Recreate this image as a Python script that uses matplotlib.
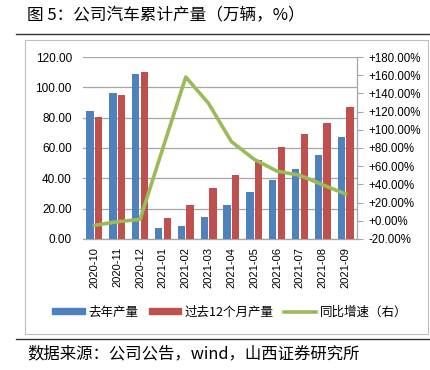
import matplotlib
matplotlib.use("Agg")
import matplotlib.pyplot as plt
import numpy as np
from matplotlib.patches import Rectangle
from matplotlib.lines import Line2D

plt.rcParams['font.family'] = ['Noto Sans CJK SC', 'DejaVu Sans']

categories = ['2020-10', '2020-11', '2020-12', '2021-01', '2021-02', '2021-03',
              '2021-04', '2021-05', '2021-06', '2021-07', '2021-08', '2021-09']
last_year = [84.4, 96.5, 108.6, 7.5, 8.6, 14.5, 22.6, 30.8, 39.1, 46.4, 55.4, 67.1]
past_12m = [80.2, 94.9, 109.9, 13.6, 22.4, 33.4, 42.2, 52.1, 60.6, 69.4, 76.7, 86.8]
yoy_growth = [-5.0, -1.0, 1.6, 80.0, 158.0, 129.0, 87.0, 67.5, 54.5, 50.0, 39.5, 29.5]

left_ticks = [0, 20, 40, 60, 80, 100, 120]
right_ticks = [-20, 0, 20, 40, 60, 80, 100, 120, 140, 160, 180]

BLUE = '#4F81BD'
RED = '#C0504D'
GREEN = '#9BBB59'
GRID = '#A6A6A6'

W, H = 431, 370
fig = plt.figure(figsize=(W / 100, H / 100), dpi=100)

def fx(px):
    return px / W

def fy(py):
    return 1 - py / H

# Title
fig.text(fx(27), fy(16), '图 5：公司汽车累计产量（万辆，%）', fontsize=12,
         va='center', ha='left', color='#000000')
# Header line & box
fig.add_artist(Line2D([fx(16), fx(431)], [fy(34), fy(34)], color='#333333', lw=1.0))
fig.add_artist(Rectangle((fx(25), fy(334)), fx(428) - fx(25), fy(40) - fy(334),
                         fill=False, edgecolor='#BFBFBF', lw=0.8))
fig.add_artist(Line2D([fx(16), fx(431)], [fy(339), fy(339)], color='#333333', lw=1.0))
fig.text(fx(27), fy(354), '数据来源：公司公告，wind，山西证券研究所', fontsize=11.8,
         va='center', ha='left', color='#000000')

ax = fig.add_axes([fx(83), fy(239), fx(357) - fx(83), fy(57) - fy(239)])
x = np.arange(len(categories))
bw = 0.32
ax.bar(x - 0.19, last_year, width=bw, color=BLUE, label='去年产量', zorder=3)
ax.bar(x + 0.19, past_12m, width=bw, color=RED, label='过去12个月产量', zorder=3)
ax.set_xlim(-0.5, len(categories) - 0.5)
ax.set_ylim(0, 120)
ax.set_yticks(left_ticks)
ax.set_yticklabels([f'{v:.2f}' for v in left_ticks], fontfamily='Liberation Sans', fontsize=8.5)
ax.yaxis.grid(True, color=GRID, lw=0.9, zorder=0)
ax.set_axisbelow(True)
ax.set_xticks(x)
ax.set_xticklabels(categories, rotation=90, fontfamily='Liberation Sans', fontsize=8)
ax.tick_params(axis='x', length=0, pad=6)
ax.tick_params(axis='y', length=0, pad=8)
for s in ['top', 'left', 'right']:
    ax.spines[s].set_visible(False)
ax.spines['bottom'].set_color(GRID)
ax.spines['bottom'].set_linewidth(0.9)

ax2 = ax.twinx()
ax2.plot(x, yoy_growth, color=GREEN, lw=2.6, label='同比增速（右）', zorder=4)
ax2.set_ylim(-20, 180)
ax2.set_yticks(right_ticks)
ax2.set_yticklabels([(f'+{v:.2f}%' if v >= 0 else f'{v:.2f}%') for v in right_ticks],
                    fontfamily='Liberation Sans', fontsize=8.3)
ax2.tick_params(axis='y', length=4, color=GRID, pad=4)
for s in ['top', 'left', 'bottom']:
    ax2.spines[s].set_visible(False)
ax2.spines['right'].set_color(GRID)
ax2.spines['right'].set_linewidth(0.9)

handles = [Rectangle((0, 0), 1, 1, color=BLUE),
           Rectangle((0, 0), 1, 1, color=RED),
           Line2D([0], [0], color=GREEN, lw=2.6)]
labels = ['去年产量', '过去12个月产量', '同比增速（右）']
fig.legend(handles, labels, loc='center', bbox_to_anchor=(fx(230), fy(312)), ncol=3,
           frameon=False, fontsize=9, handlelength=2.6, handleheight=0.45,
           handletextpad=0.3, columnspacing=0.8, borderaxespad=0)

fig.savefig('out.png', dpi=100)
